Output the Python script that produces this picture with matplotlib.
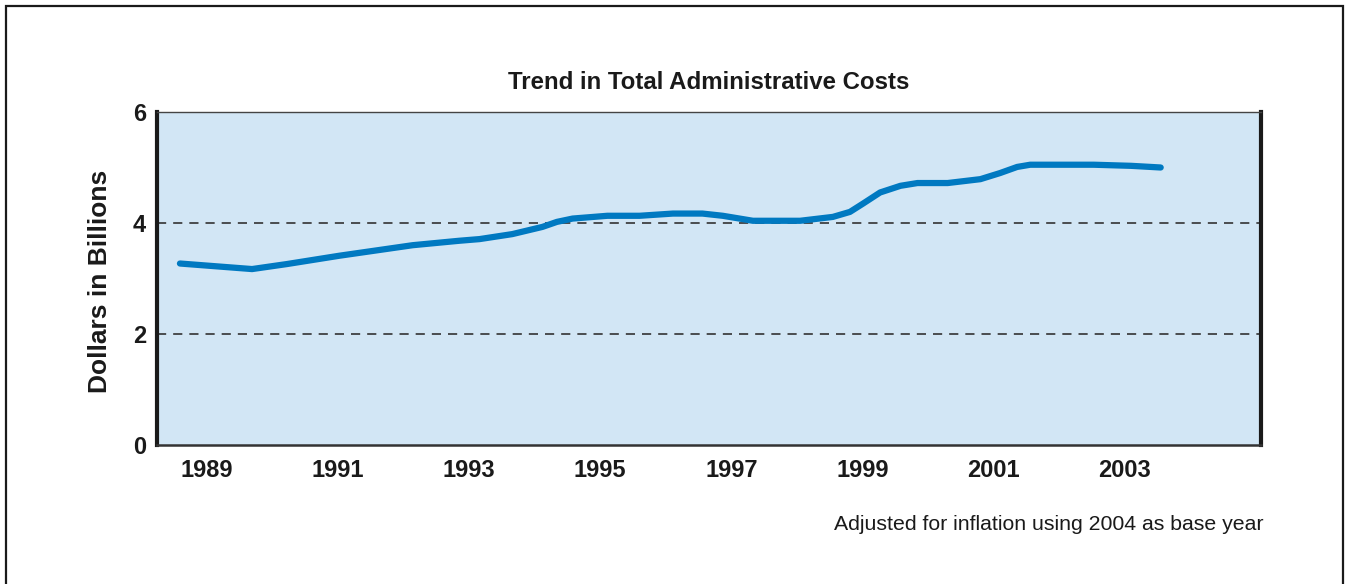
import matplotlib
matplotlib.use("Agg")
import matplotlib.pyplot as plt
from matplotlib.patches import Rectangle

plt.rcParams['font.family'] = ['Liberation Sans', 'DejaVu Sans']

# Data (year position, dollars in billions)
years = [1988.59, 1989.69, 1990.22, 1991.02, 1992.14, 1992.85, 1993.16, 1993.66,
         1994.12, 1994.34, 1994.58, 1995.11, 1995.60, 1996.11, 1996.56, 1996.87,
         1997.33, 1998.05, 1998.55, 1998.81, 1999.01, 1999.27, 1999.58, 1999.84,
         2000.30, 2000.80, 2001.10, 2001.36, 2001.56, 2002.53, 2003.10, 2003.55]
costs = [3.27, 3.17, 3.26, 3.41, 3.60, 3.68, 3.71, 3.80,
         3.93, 4.02, 4.08, 4.13, 4.13, 4.17, 4.17, 4.13,
         4.04, 4.04, 4.11, 4.20, 4.35, 4.55, 4.67, 4.72,
         4.72, 4.79, 4.90, 5.01, 5.05, 5.05, 5.03, 5.00]
xtick_years = [1989, 1991, 1993, 1995, 1997, 1999, 2001, 2003]
ytick_vals = [0, 2, 4, 6]
grid_vals = [2, 4]

title = "Trend in Total Administrative Costs"
ylabel = "Dollars in Billions"
note = "Adjusted for inflation using 2004 as base year"

W, H = 1348, 584
fig = plt.figure(figsize=(W / 100, H / 100), dpi=100)
fig.patch.set_facecolor('white')

# outer frame (bottom edge runs off the picture)
frame = Rectangle((6 / W, -0.05), (1343 - 6) / W, 1 - 6 / H + 0.05,
                  transform=fig.transFigure, fill=False,
                  edgecolor='#1a1a1a', linewidth=1.6, zorder=0)
fig.patches.append(frame)

left, right, top, bottom = 157, 1261, 112, 445
ax = fig.add_axes([left / W, 1 - bottom / H, (right - left) / W, (bottom - top) / H])
ax.set_facecolor('#D2E6F5')

for g in grid_vals:
    ax.axhline(g, color='#333333', linewidth=1.2, linestyle=(0, (5.5, 4.2)), zorder=1)

ax.plot(years, costs, color='#0079C1', linewidth=4.5, solid_capstyle='round',
        solid_joinstyle='round', zorder=3)

ax.set_xlim(1988.24, 2005.08)
ax.set_ylim(0, 6)
ax.set_xticks(xtick_years)
ax.set_xticklabels([str(y) for y in xtick_years], fontsize=17, fontweight='bold', color='#1a1a1a')
ax.set_yticks(ytick_vals)
ax.set_yticklabels([str(v) for v in ytick_vals], fontsize=17, fontweight='bold', color='#1a1a1a')
ax.tick_params(axis='x', length=0, pad=10)
ax.tick_params(axis='y', length=0, pad=8)

ax.spines['left'].set_linewidth(3.0)
ax.spines['left'].set_color('#1a1a1a')
ax.spines['right'].set_linewidth(3.0)
ax.spines['right'].set_color('#1a1a1a')
ax.spines['bottom'].set_linewidth(1.8)
ax.spines['bottom'].set_color('#333333')
ax.spines['top'].set_linewidth(1.0)
ax.spines['top'].set_color('#444444')

ax.set_title(title, fontsize=17.3, fontweight='bold', color='#1a1a1a', pad=16.5)
ax.set_ylabel(ylabel, fontsize=19, fontweight='bold', color='#1a1a1a')
ax.yaxis.set_label_coords(-0.041, 0.49)

fig.text(1263 / W, 1 - 525 / H, note, ha='right', va='center', fontsize=15.35, color='#1a1a1a')

fig.savefig('out.png', dpi=100)
